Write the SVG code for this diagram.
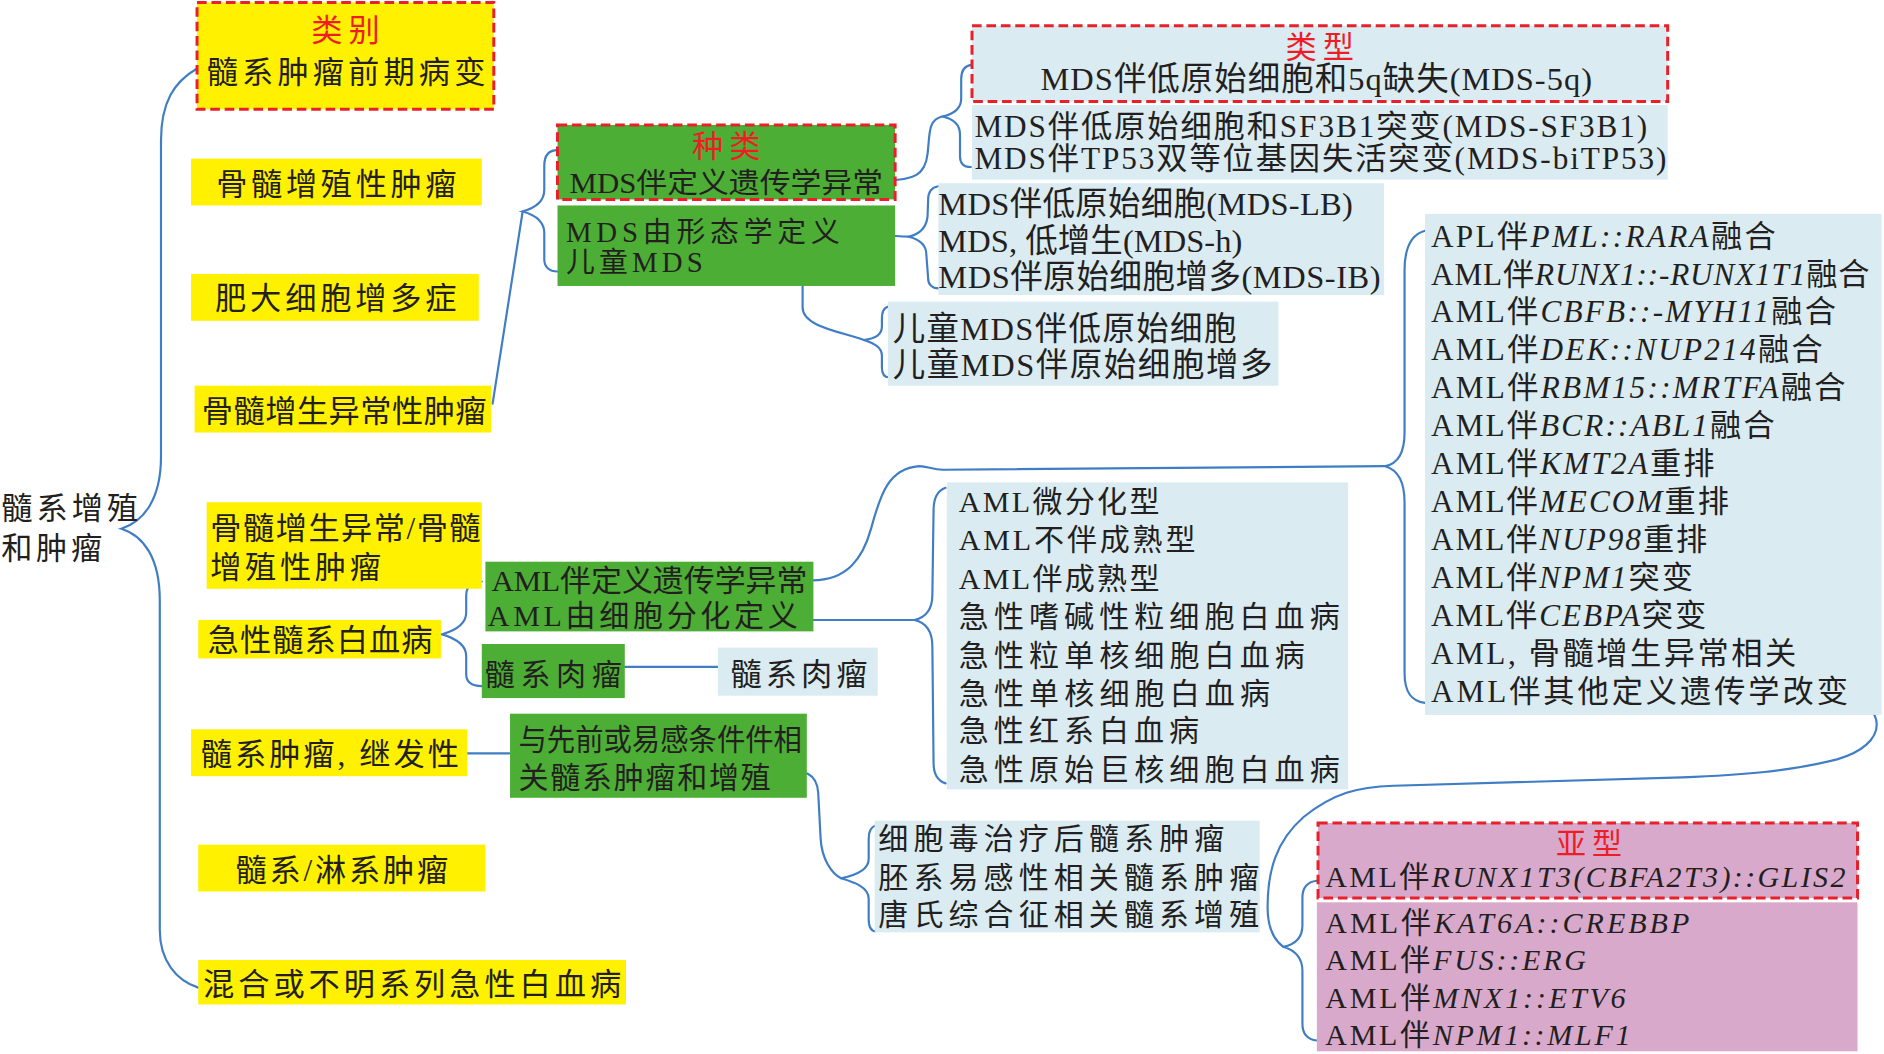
<svg xmlns="http://www.w3.org/2000/svg" width="1884" height="1054" viewBox="0 0 1884 1054">
<style>
.y{fill:#FFF100}
.g{fill:#4DAE35}
.b{fill:#DAEBF2}
.p{fill:#D8A9CB}
.d{stroke:#E8202A;stroke-width:2.5;stroke-dasharray:8 4}
text{font-family:"Liberation Serif","Noto Sans CJK SC",serif;fill:#231F20}
.r{fill:#EE1C25}
.f26{font-size:26px}
.f27{font-size:27px}
.f25{font-size:25px}
.f24{font-size:24px}
.i{font-style:italic}
.c{fill:none;stroke:#3F7DC4;stroke-width:1.8;stroke-linecap:round}
</style>
<rect width="1884" height="1054" fill="#FFFFFF"/>
<g transform="scale(1.2015)">
<g id="connectors">
<path class="c" d="M164,57 C145,68 134,85 134,117 L134,380 C134,415 120,434 101,440 C120,446 133,465 133,500 L133,774 C133,800 147,816 165,822"/>
<path class="c" d="M410,336 Q420,270 435,176"/>
<path class="c" d="M464,125 C456,125 453,130 453,138 L453,158 C453,168 446,173 435,176 C446,179 453,184 453,194 L453,216 C453,222 457,226 464,226"/>
<path class="c" d="M737,150 C760,150 770,146 772,128 C774,112 772,100 784,97"/>
<path class="c" d="M808,54 C802,55 800,59 800,66 L800,82 C800,90 794,95 784,97 C794,99 799,104 799,112 L799,130 C799,136 802,139 808,139"/>
<path class="c" d="M706,193 C730,195 745,197 756,197"/>
<path class="c" d="M781,155 C775,156 772.5,160 772.5,166 L772,180 C771,190 765,195 756,197 C765,199 771,204 771,212 L772.5,232 C772.5,237 776,240 781,240"/>
<path class="c" d="M586,217 L650,217 C662,217 668,224 668,236 L668,256 C668,272 700,276 719,283"/>
<path class="c" d="M740,255 C735,256 734,260 734,266 L734,272 C734,279 728,282 719,283 C728,286 734,289 734,296 L734,306 C734,311 736,314 740,314"/>
<path class="c" d="M401,484 C392,484 388,488 388,496 L388,510 C388,520 378,525 368,528 C378,531 388,536 388,546 L388,561 C388,568 393,571 401,571"/>
<path class="c" d="M676,483 C705,483 718,465 725,440 C733,410 740,390 765,388 C772,388 776,391 785,391 L1153,388"/>
<path class="c" d="M1186,192 C1175,195 1169,205 1169,225 L1169,360 C1169,378 1163,386 1153,388 C1163,391 1169,400 1169,418 L1169,560 C1169,578 1176,584 1186,585"/>
<path class="c" d="M677,516 L761,516"/>
<path class="c" d="M787,406 C781,408 777,414 777,425 L776,495 C776,508 770,514 761,516 C770,518 776,525 776,538 L777,635 C777,645 781,650 787,652"/>
<path class="c" d="M520,555 L598,555"/>
<path class="c" d="M389,627 L424,627"/>
<path class="c" d="M650,641 C670,641 680,643 681,660 L683,698 C684,715 692,727 700,731"/>
<path class="c" d="M729,687 C725,688 723,692 723,698 L723,715 C723,725 710,729 700,731 C710,734 723,738 723,748 L723,765 C723,771 725,775 729,775"/>
<path class="c" d="M1538,576 C1552,584 1562,592 1562,603 C1562,615 1550,626 1529,632 C1490,642 1450,645 1400,647 L1160,654 C1130,655 1110,660 1085,680 C1062,700 1055,725 1055,755 C1055,772 1060,782 1068,788"/>
<path class="c" d="M1096,733 C1088,734 1084,739 1084,747 L1084,770 C1084,781 1078,786 1068,788 C1078,791 1084,797 1084,808 L1084,852 C1084,860 1088,865 1096,866"/>
</g>

<g id="root">
<text class="f26" x="1" y="432" textLength="114" lengthAdjust="spacing">髓系增殖</text>
<text class="f26" x="1" y="465" textLength="84" lengthAdjust="spacing">和肿瘤</text>
</g>

<g id="n-leibie">
<rect class="y d" x="164" y="2" width="247" height="89"/>
<text class="f26 r" x="259" y="34" textLength="57" lengthAdjust="spacing">类别</text>
<text class="f26" x="172" y="69" textLength="232" lengthAdjust="spacing">髓系肿瘤前期病变</text>
</g>
<g id="n-mpn">
<rect class="y" x="159" y="132" width="242" height="39"/>
<text class="f26" x="180" y="162" textLength="200" lengthAdjust="spacing">骨髓增殖性肿瘤</text>
</g>
<g id="n-mast">
<rect class="y" x="159" y="228" width="239.5" height="39"/>
<text class="f26" x="179" y="257.5" textLength="201" lengthAdjust="spacing">肥大细胞增多症</text>
</g>
<g id="n-mds">
<rect class="y" x="162" y="321" width="247" height="39"/>
<text class="f26" x="168" y="351" textLength="237" lengthAdjust="spacing">骨髓增生异常性肿瘤</text>
</g>
<g id="n-mdsmpn">
<rect class="y" x="172" y="418" width="229" height="72"/>
<text class="f26" x="175" y="449" textLength="225" lengthAdjust="spacing">骨髓增生异常/骨髓</text>
<text class="f26" x="175" y="481" textLength="142" lengthAdjust="spacing">增殖性肿瘤</text>
</g>
<g id="n-aml">
<rect class="y" x="165" y="516" width="202" height="32"/>
<text class="f26" x="173" y="542" textLength="187" lengthAdjust="spacing">急性髓系白血病</text>
</g>
<g id="n-secondary">
<rect class="y" x="159" y="607" width="230" height="39"/>
<text class="f26" x="167" y="636.5" textLength="215" lengthAdjust="spacing">髓系肿瘤, 继发性</text>
</g>
<g id="n-mlymph">
<rect class="y" x="165" y="703" width="239" height="39"/>
<text class="f26" x="196" y="733.5" textLength="177" lengthAdjust="spacing">髓系/淋系肿瘤</text>
</g>
<g id="n-mixed">
<rect class="y" x="165" y="799" width="356" height="37"/>
<text class="f26" x="169" y="828" textLength="348" lengthAdjust="spacing">混合或不明系列急性白血病</text>
</g>

<g id="n-zhonglei">
<rect class="g d" x="464" y="104" width="281" height="62"/>
<text class="f26 r" x="576" y="131" textLength="57" lengthAdjust="spacing">种类</text>
<text class="f24" x="474" y="161" textLength="261" lengthAdjust="spacingAndGlyphs">MDS伴定义遗传学异常</text>
</g>
<g id="n-mdsmorph">
<rect class="g" x="464" y="171" width="281" height="67"/>
<text class="f24" x="471" y="201" textLength="228" lengthAdjust="spacing">MDS由形态学定义</text>
<text class="f24" x="471" y="226" textLength="114" lengthAdjust="spacing">儿童MDS</text>
</g>
<g id="n-amlgen">
<rect class="g" x="404" y="467.5" width="273" height="58"/>
<text class="f25" x="409" y="492" textLength="263" lengthAdjust="spacingAndGlyphs">AML伴定义遗传学异常</text>
<text class="f25" x="406" y="521" textLength="258" lengthAdjust="spacing">AML由细胞分化定义</text>
</g>
<g id="n-sarcoma">
<rect class="g" x="401" y="536" width="119" height="45"/>
<text class="f25" x="403.5" y="570" textLength="114" lengthAdjust="spacing">髓系肉瘤</text>
</g>
<g id="n-predisp">
<rect class="g" x="424.5" y="594" width="247" height="70"/>
<text class="f25" x="431.5" y="624" textLength="236" lengthAdjust="spacingAndGlyphs">与先前或易感条件件相</text>
<text class="f25" x="431.5" y="656" textLength="210" lengthAdjust="spacing">关髓系肿瘤和增殖</text>
</g>

<g id="n-leixing">
<rect class="b d" x="809" y="21.5" width="579" height="63"/>
<text class="f26 r" x="1070" y="48" textLength="57" lengthAdjust="spacing">类型</text>
<text class="f27" x="866" y="75" textLength="459" lengthAdjust="spacing">MDS伴低原始细胞和5q缺失(MDS-5q)</text>
</g>
<g id="n-mdsgen2">
<rect class="b" x="809" y="87.5" width="579" height="62"/>
<text class="f26" x="811" y="114" textLength="560" lengthAdjust="spacing">MDS伴低原始细胞和SF3B1突变(MDS-SF3B1)</text>
<text class="f26" x="811" y="141" textLength="576" lengthAdjust="spacing">MDS伴TP53双等位基因失活突变(MDS-biTP53)</text>
</g>
<g id="n-mdsmorph-list">
<rect class="b" x="781" y="152.5" width="371" height="93"/>
<text class="f27" x="781" y="179" textLength="345" lengthAdjust="spacing">MDS伴低原始细胞(MDS-LB)</text>
<text class="f27" x="781" y="209.5" textLength="253" lengthAdjust="spacing">MDS, 低增生(MDS-h)</text>
<text class="f27" x="781" y="240" textLength="368" lengthAdjust="spacing">MDS伴原始细胞增多(MDS-IB)</text>
</g>
<g id="n-child-list">
<rect class="b" x="739" y="251" width="325" height="70"/>
<text class="f27" x="743" y="283" textLength="286" lengthAdjust="spacing">儿童MDS伴低原始细胞</text>
<text class="f27" x="743" y="313" textLength="316" lengthAdjust="spacing">儿童MDS伴原始细胞增多</text>
</g>
<g id="n-amlgen-list">
<rect class="b" x="1186" y="178" width="380" height="417"/>
<text class="f26" x="1191" y="205.3" textLength="287" lengthAdjust="spacing">APL伴<tspan class="i">PML::RARA</tspan>融合</text>
<text class="f26" x="1191" y="236.9" textLength="365" lengthAdjust="spacing">AML伴<tspan class="i">RUNX1::-RUNX1T1</tspan>融合</text>
<text class="f26" x="1191" y="268.4" textLength="337" lengthAdjust="spacing">AML伴<tspan class="i">CBFB::-MYH11</tspan>融合</text>
<text class="f26" x="1191" y="300" textLength="326" lengthAdjust="spacing">AML伴<tspan class="i">DEK::NUP214</tspan>融合</text>
<text class="f26" x="1191" y="331.5" textLength="345" lengthAdjust="spacing">AML伴<tspan class="i">RBM15::MRTFA</tspan>融合</text>
<text class="f26" x="1191" y="363.1" textLength="286" lengthAdjust="spacing">AML伴<tspan class="i">BCR::ABL1</tspan>融合</text>
<text class="f26" x="1191" y="394.7" textLength="236" lengthAdjust="spacing">AML伴<tspan class="i">KMT2A</tspan>重排</text>
<text class="f26" x="1191" y="426.2" textLength="248" lengthAdjust="spacing">AML伴<tspan class="i">MECOM</tspan>重排</text>
<text class="f26" x="1191" y="457.8" textLength="230" lengthAdjust="spacing">AML伴<tspan class="i">NUP98</tspan>重排</text>
<text class="f26" x="1191" y="489.3" textLength="218" lengthAdjust="spacing">AML伴<tspan class="i">NPM1</tspan>突变</text>
<text class="f26" x="1191" y="520.9" textLength="229" lengthAdjust="spacing">AML伴<tspan class="i">CEBPA</tspan>突变</text>
<text class="f26" x="1191" y="552.5" textLength="304" lengthAdjust="spacing">AML, 骨髓增生异常相关</text>
<text class="f26" x="1191" y="584" textLength="347" lengthAdjust="spacing">AML伴其他定义遗传学改变</text>
</g>
<g id="n-amldiff-list">
<rect class="b" x="788" y="401.5" width="334" height="255.5"/>
<text class="f25" x="798" y="426" textLength="167" lengthAdjust="spacing">AML微分化型</text>
<text class="f25" x="798" y="458" textLength="197" lengthAdjust="spacing">AML不伴成熟型</text>
<text class="f25" x="798" y="490" textLength="167" lengthAdjust="spacing">AML伴成熟型</text>
<text class="f25" x="798" y="522" textLength="317" lengthAdjust="spacing">急性嗜碱性粒细胞白血病</text>
<text class="f25" x="798" y="554" textLength="288" lengthAdjust="spacing">急性粒单核细胞白血病</text>
<text class="f25" x="798" y="586" textLength="259" lengthAdjust="spacing">急性单核细胞白血病</text>
<text class="f25" x="798" y="617" textLength="200" lengthAdjust="spacing">急性红系白血病</text>
<text class="f25" x="798" y="649" textLength="317" lengthAdjust="spacing">急性原始巨核细胞白血病</text>
</g>
<g id="n-sarcoma-leaf">
<rect class="b" x="597.5" y="539" width="133" height="40"/>
<text class="f26" x="608" y="570" textLength="114" lengthAdjust="spacing">髓系肉瘤</text>
</g>
<g id="n-predisp-list">
<rect class="b" x="728" y="683" width="320.5" height="93"/>
<text class="f25" x="731" y="707" textLength="288" lengthAdjust="spacing">细胞毒治疗后髓系肿瘤</text>
<text class="f25" x="731" y="739" textLength="317" lengthAdjust="spacing">胚系易感性相关髓系肿瘤</text>
<text class="f25" x="731" y="769.5" textLength="317" lengthAdjust="spacing">唐氏综合征相关髓系增殖</text>
</g>
<g id="n-yaxing">
<rect class="p d" x="1097" y="685" width="449" height="62.5"/>
<text class="f25 r" x="1295" y="711" textLength="55" lengthAdjust="spacing">亚型</text>
<text class="f25" x="1103" y="738" textLength="433" lengthAdjust="spacing">AML伴<tspan class="i">RUNX1T3(CBFA2T3)::GLIS2</tspan></text>
</g>
<g id="n-subtype-list">
<rect class="p" x="1096" y="751" width="450" height="124"/>
<text class="f25" x="1103" y="776.5" textLength="303" lengthAdjust="spacing">AML伴<tspan class="i">KAT6A::CREBBP</tspan></text>
<text class="f25" x="1103" y="807" textLength="217" lengthAdjust="spacing">AML伴<tspan class="i">FUS::ERG</tspan></text>
<text class="f25" x="1103" y="839" textLength="250" lengthAdjust="spacing">AML伴<tspan class="i">MNX1::ETV6</tspan></text>
<text class="f25" x="1103" y="870" textLength="254" lengthAdjust="spacing">AML伴<tspan class="i">NPM1::MLF1</tspan></text>
</g>
</g>
</svg>
